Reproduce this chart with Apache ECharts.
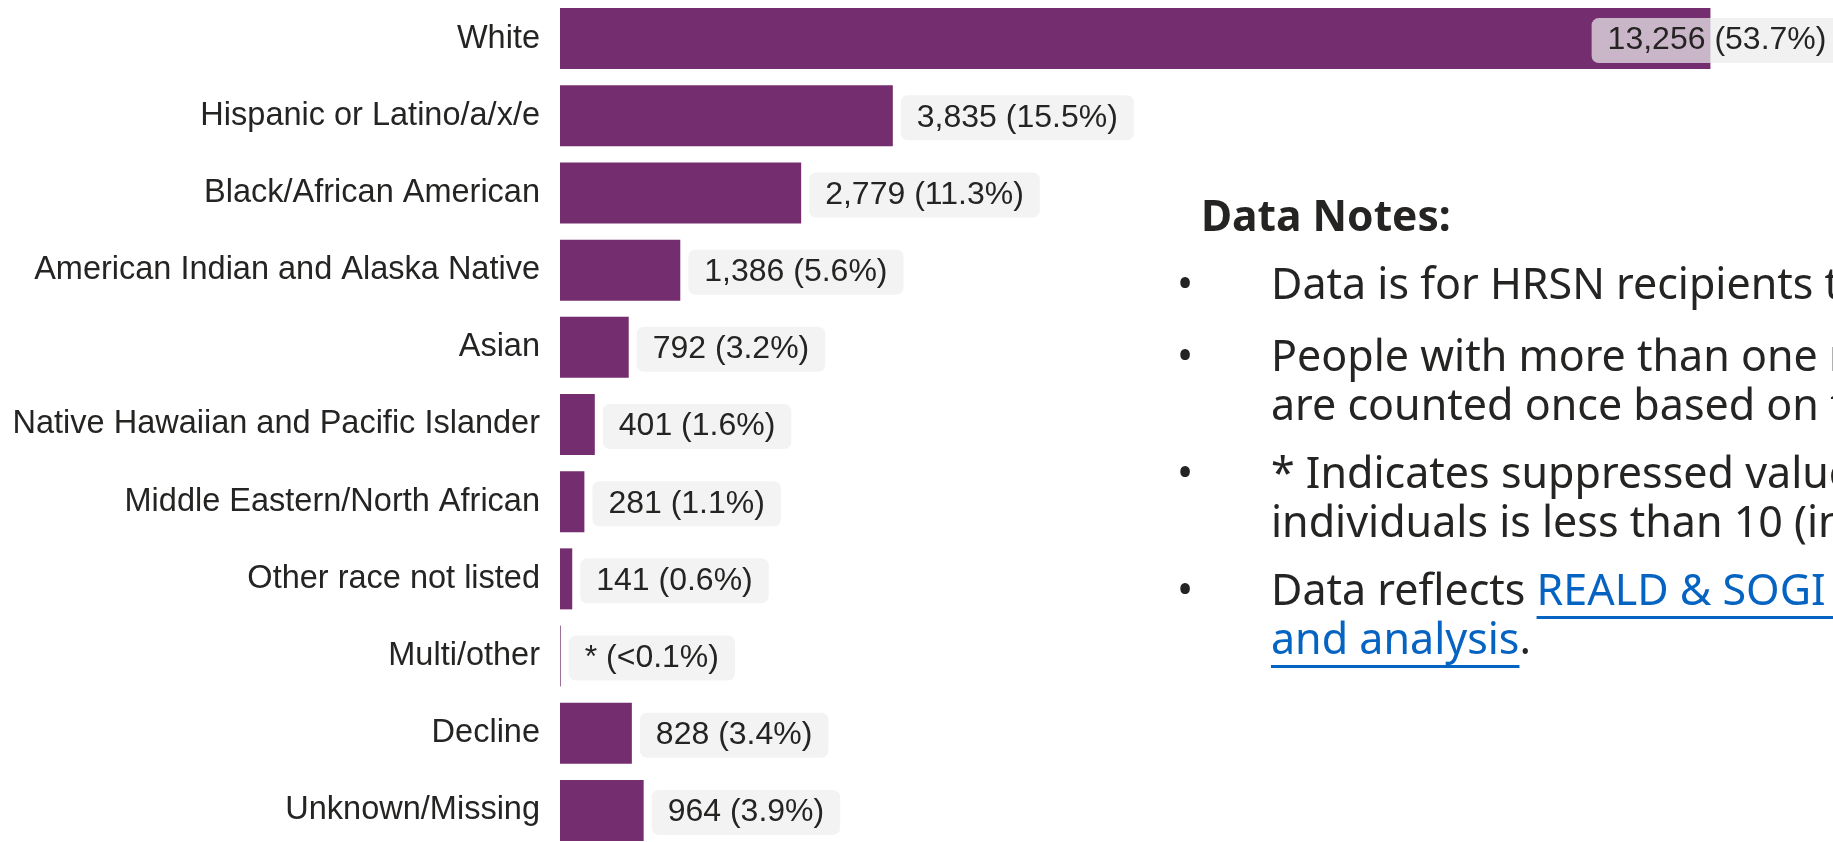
<!DOCTYPE html>
<html>
<head>
<meta charset="utf-8">
<title>HRSN recipients by race/ethnicity</title>
<script src="https://cdn.jsdelivr.net/npm/echarts@6/dist/echarts.min.js"></script>
<style>
  html, body { margin: 0; padding: 0; background: #fff; overflow: hidden; }
  #charts { width: 1833px; height: 842px; }
</style>
</head>
<body>
<div id="charts"></div>
<script>
// categories, top to bottom
var categories = ['White', 'Hispanic or Latino/a/x/e', 'Black/African American',
  'American Indian and Alaska Native', 'Asian', 'Native Hawaiian and Pacific Islander',
  'Middle Eastern/North African', 'Other race not listed', 'Multi/other', 'Decline', 'Unknown/Missing'];
// number of recipients (Multi/other is suppressed, <10 : value estimated)
var recipients = [13256, 3835, 2779, 1386, 792, 401, 281, 141, 8, 828, 964];
var shares = ['53.7%', '15.5%', '11.3%', '5.6%', '3.2%', '1.6%', '1.1%', '0.6%', '<0.1%', '3.4%', '3.9%'];
var suppressed = ['Multi/other'];

var notesTitle = 'Data Notes:';
var notes = [
  ['Data is for HRSN recipients through the end of the reporting period.'],
  ['People with more than one race or ethnicity reported',
   'are counted once based on their primary identity.'],
  ['* Indicates suppressed values where the number of',
   'individuals is less than 10 (including zero).'],
  ['Data reflects |REALD & SOGI data collection standards',
   '|and analysis|.']
];

var barColor = '#742e6f';
var textColor = '#252423';
var linkColor = '#0563c1';
var axisFont = '"Liberation Sans", Arial, sans-serif';
var noteFont = '"Noto Sans", "Open Sans", sans-serif';

function labelText(p) {
  var i = p.dataIndex;
  var n = suppressed.indexOf(categories[i]) >= 0 ? '*' : recipients[i].toLocaleString('en-US');
  return n + ' (' + shares[i] + ')';
}

var barData = recipients.map(function (v, i) {
  if (i === 0) {
    // biggest bar: label sits inside the end of the bar
    return {
      value: v,
      label: { position: 'insideRight', offset: [140, 2], backgroundColor: 'rgba(236,236,236,0.72)' }
    };
  }
  return v;
});

// ---- notes panel (right side) ----
var measure = document.createElement('canvas').getContext('2d');
function textWidth(str, font) { measure.font = font; return measure.measureText(str).width; }

var noteX = 1271, bulletX = 1185, noteSize = 43;
var bodyFont = noteSize + 'px ' + noteFont;
var graphics = [{
  type: 'text',
  style: { x: 1201, y: 235 - 0.38 * 43, text: notesTitle, font: 'bold 42.5px ' + noteFont, fill: textColor, verticalAlign: 'middle' }
}];
var baseline = 303;
notes.forEach(function (lines, k) {
  if (k === 1) baseline += 72;
  else if (k > 1) baseline += 68;
  graphics.push({
    type: 'text',
    style: { x: bulletX, y: baseline - 0.38 * noteSize, text: '\u2022', font: bodyFont, fill: textColor, align: 'center', verticalAlign: 'middle' }
  });
  lines.forEach(function (line, j) {
    var y = baseline + j * 49;
    // segments split by '|': odd segments are links
    var parts = line.split('|');
    var x = noteX;
    parts.forEach(function (seg, s) {
      if (!seg) return;
      var isLink = s % 2 === 1;
      graphics.push({
        type: 'text',
        style: { x: x, y: y - 0.38 * noteSize, text: seg, font: bodyFont, fill: isLink ? linkColor : textColor, verticalAlign: 'middle' }
      });
      var w = textWidth(seg, bodyFont);
      if (isLink) {
        graphics.push({
          type: 'rect',
          shape: { x: x, y: y + 7, width: w, height: 3 },
          style: { fill: linkColor }
        });
      }
      x += w;
    });
  });
  baseline += (lines.length - 1) * 49;
});

var myChart = echarts.init(document.getElementById('charts'), null, { renderer: 'canvas' });

var option = {
  animation: false,
  backgroundColor: '#ffffff',
  textStyle: { fontFamily: axisFont },
  grid: { left: 560, top: 0, width: 1215, height: 849, containLabel: false, outerBoundsMode: 'none' },
  xAxis: {
    type: 'value',
    min: 0,
    max: 14000,
    show: false
  },
  yAxis: {
    type: 'category',
    data: categories,
    inverse: true,
    axisLine: { show: false },
    axisTick: { show: false },
    splitLine: { show: false },
    axisLabel: { fontSize: 32.5, color: textColor, margin: 20, fontFamily: axisFont, padding: [10, 0, 0, 0] }
  },
  series: [{
    name: 'Recipients',
    type: 'bar',
    barWidth: 61,
    data: barData,
    itemStyle: { color: barColor },
    label: {
      show: true,
      position: 'right',
      distance: 8,
      offset: [0, 2],
      formatter: labelText,
      fontFamily: axisFont,
      fontSize: 32,
      lineHeight: 33,
      color: textColor,
      backgroundColor: '#f3f3f3',
      borderRadius: 7,
      padding: [9, 16, 3, 16]
    }
  }],
  graphic: graphics
};

myChart.setOption(option);
</script>
</body>
</html>
